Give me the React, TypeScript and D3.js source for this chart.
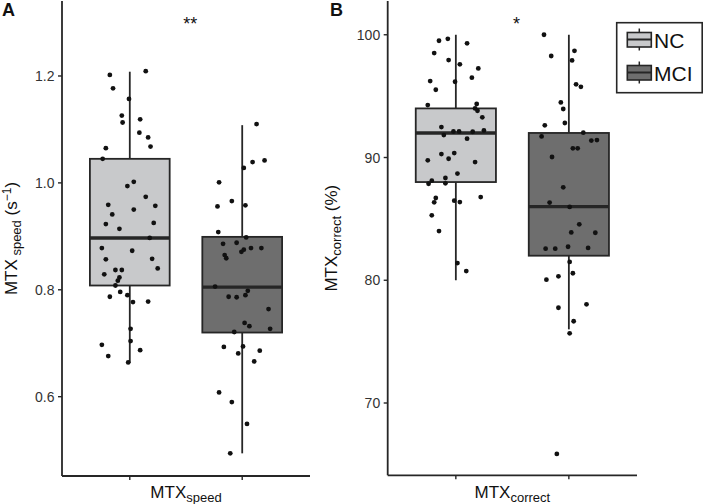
import React from 'react';
import * as d3 from 'd3';

// ---------- data ----------
const groups = ['NC', 'MCI'];

// Panel A: MTX speed (s^-1), jittered observations
const speedNC = [1.202, 1.209, 1.177, 1.157, 1.126, 1.113, 1.119, 1.094, 1.085, 1.065, 1.068, 1.045, 1.002, 0.994, 0.974, 0.959, 0.957, 0.950, 0.941, 0.923, 0.925, 0.914, 0.897, 0.878, 0.873, 0.857, 0.858, 0.840, 0.837, 0.837, 0.829, 0.823, 0.817, 0.808, 0.796, 0.790, 0.787, 0.777, 0.778, 0.727, 0.704, 0.697, 0.687, 0.676, 0.664];
const speedNCJitter = [-0.25, 0.2, -0.21, -0.01, -0.1, -0.09, 0.13, 0.12, 0.23, -0.3, 0.26, -0.34, 0.05, -0.03, 0.2, -0.27, 0.32, 0.05, -0.22, -0.3, 0.3, -0.13, 0.25, -0.35, 0.03, -0.3, 0.28, 0.35, -0.18, -0.1, -0.32, -0.13, -0.15, -0.18, -0.12, -0.03, -0.25, 0.04, 0.23, 0.01, 0.01, -0.35, 0.13, -0.27, -0.02];
const speedMCI = [1.110, 1.028, 1.039, 1.042, 1.001, 0.966, 0.956, 0.958, 0.908, 0.898, 0.886, 0.888, 0.865, 0.859, 0.871, 0.875, 0.878, 0.878, 0.806, 0.798, 0.787, 0.786, 0.790, 0.764, 0.738, 0.732, 0.727, 0.721, 0.693, 0.694, 0.681, 0.686, 0.666, 0.608, 0.590, 0.549, 0.494];
const speedMCIJitter = [0.18, 0.02, 0.13, 0.28, -0.29, -0.13, -0.31, 0.04, -0.3, 0.05, -0.24, -0.07, -0.22, -0.2, -0.01, 0.02, 0.11, 0.24, -0.34, 0.07, -0.17, -0.07, 0.04, 0.33, 0.03, 0.09, 0.35, -0.1, -0.23, 0.01, -0.05, 0.22, 0.15, -0.29, -0.13, 0.06, -0.15];
// box stats: [lower whisker, Q1, median, Q3, upper whisker]
const speedBoxNC = [0.663, 0.808, 0.897, 1.045, 1.208];
const speedBoxMCI = [0.494, 0.720, 0.805, 0.899, 1.108];
const speedTicks = [0.6, 0.8, 1.0, 1.2];
const speedDomain = [0.4516, 1.3403];

// Panel B: MTX correct (%)
const correctNC = [99.51, 99.67, 99.30, 98.51, 97.94, 97.59, 97.26, 96.23, 96.50, 96.17, 95.52, 94.27, 94.36, 94.00, 93.81, 93.27, 92.48, 92.12, 92.12, 92.10, 92.21, 91.83, 91.53, 90.28, 90.36, 89.90, 89.77, 89.63, 88.69, 88.33, 88.11, 87.86, 87.90, 86.70, 86.35, 86.48, 86.37, 86.78, 85.29, 84.01, 81.40, 80.75];
const correctNCJitter = [-0.21, -0.1, 0.14, -0.27, -0.09, 0.05, 0.28, -0.32, 0.2, -0.01, -0.25, -0.35, 0.26, 0.24, 0.27, 0.33, -0.18, -0.03, 0.04, 0.21, 0.35, -0.15, 0.14, -0.18, -0.02, -0.09, -0.35, 0.24, 0.02, -0.13, -0.3, -0.34, -0.13, -0.25, -0.27, -0.02, 0.05, 0.31, -0.3, -0.21, 0.02, 0.13];
const correctMCI = [100.0, 98.69, 98.27, 97.91, 95.96, 95.76, 94.49, 93.95, 92.62, 92.81, 91.72, 92.02, 91.38, 91.42, 90.75, 90.75, 90.04, 87.57, 86.33, 85.97, 84.56, 83.90, 83.87, 82.57, 82.57, 82.73, 82.63, 81.49, 80.57, 80.05, 80.32, 77.76, 78.04, 76.66, 75.68, 65.85];
const correctMCIJitter = [-0.31, 0.07, -0.22, 0.04, 0.09, 0.15, -0.1, -0.07, -0.3, -0.05, -0.34, 0.18, 0.28, 0.35, 0.05, 0.11, -0.21, -0.07, -0.24, 0.01, 0.13, 0.03, 0.33, -0.29, -0.17, -0.01, 0.24, 0.01, 0.05, -0.28, -0.13, -0.13, 0.22, 0.06, 0.01, -0.15];
const correctBoxNC = [80, 88, 92, 94, 100];
const correctBoxMCI = [76, 82, 86, 92, 100];
const correctTicks = [70, 80, 90, 100];
const correctDomain = [64.11, 102.75];

const significance = ['**', '*'];

// ---------- styles ----------
const FONT = 'Liberation Sans, Arial, Helvetica, sans-serif';
const FILLS: Record<string, string> = { NC: '#c8c9cb', MCI: '#6e6e6e' };
const INK = '#262626';
const DODGE = 0.272;
const BOXW = 0.386;

type PanelProps = {
  x0: number; x1: number; y0: number; y1: number;
  domain: number[]; ticks: number[]; fmt: (v: number) => string;
  boxes: number[][]; values: number[][]; jitters: number[][];
  sig: string; letter: string; letterX: number;
  xTitleSub: string; yTitle: React.ReactNode; yTitleX: number;
};

function Panel(p: PanelProps) {
  const x = d3.scaleLinear().domain([0.4, 1.6]).range([p.x0, p.x1]);
  const y = d3.scaleLinear().domain(p.domain).range([p.y1, p.y0]);
  const bw = x(1 + BOXW) - x(1);
  const centers = groups.map((_, i) => 1 + (i === 0 ? -DODGE : DODGE));
  return (
    <g>
      {groups.map((g, i) => {
        const [lo, q1, md, q3, hi] = p.boxes[i];
        const cx = x(centers[i]);
        return (
          <g key={g}>
            <line x1={cx} x2={cx} y1={y(hi)} y2={y(q3)} stroke={INK} strokeWidth={1.8} />
            <line x1={cx} x2={cx} y1={y(q1)} y2={y(lo)} stroke={INK} strokeWidth={1.8} />
            <rect x={cx - bw / 2} y={y(q3)} width={bw} height={y(q1) - y(q3)} fill={FILLS[g]} stroke={INK} strokeWidth={1.8} />
            <line x1={cx - bw / 2} x2={cx + bw / 2} y1={y(md)} y2={y(md)} stroke={INK} strokeWidth={3.4} />
          </g>
        );
      })}
      {groups.map((g, i) =>
        p.values[i].map((v, k) => (
          <circle key={g + k} cx={x(centers[i]) + p.jitters[i][k] * bw} cy={y(v)} r={2.4} fill="#111" />
        ))
      )}
      {/* axes */}
      <line x1={p.x0} x2={p.x0} y1={p.y0} y2={p.y1} stroke={INK} strokeWidth={1.8} />
      <line x1={p.x0} x2={p.x1} y1={p.y1} y2={p.y1} stroke={INK} strokeWidth={1.8} />
      {p.ticks.map((t) => (
        <g key={t}>
          <line x1={p.x0 - 4} x2={p.x0} y1={y(t)} y2={y(t)} stroke={INK} strokeWidth={1.4} />
          <text x={p.x0 - 7.5} y={y(t)} dy="0.36em" textAnchor="end" fontSize={14} fill="#333" fontFamily={FONT}>{p.fmt(t)}</text>
        </g>
      ))}
      {centers.map((c, i) => (
        <line key={i} x1={x(c)} x2={x(c)} y1={p.y1} y2={p.y1 + 4} stroke={INK} strokeWidth={1.4} />
      ))}
      <text x={x(1)} y={498} textAnchor="middle" fontSize={17} fill="#111" fontFamily={FONT}>
        MTX<tspan fontSize={13} dy={4}>{p.xTitleSub}</tspan>
      </text>
      <text transform={`translate(${p.yTitleX},${(p.y0 + p.y1) / 2}) rotate(-90)`} textAnchor="middle" fontSize={17} fill="#111" fontFamily={FONT}>
        {p.yTitle}
      </text>
      <text x={x(1.02)} y={p.y0 + 29} textAnchor="middle" fontSize={18} fill="#111" fontFamily={FONT}>{p.sig}</text>
      <text x={p.letterX} y={16} fontSize={18} fontWeight="bold" fill="#111" fontFamily={FONT}>{p.letter}</text>
    </g>
  );
}

function LegendKey({ x, y, fill }: { x: number; y: number; fill: string }) {
  return (
    <g>
      <line x1={x + 12} x2={x + 12} y1={y} y2={y + 22} stroke={INK} strokeWidth={1.5} />
      <rect x={x} y={y + 4} width={24} height={14.5} fill={fill} stroke={INK} strokeWidth={1.6} />
      <line x1={x} x2={x + 24} y1={y + 11} y2={y + 11} stroke={INK} strokeWidth={2} />
    </g>
  );
}

export default function App() {
  const fmtA = d3.format('.1f');
  const fmtB = d3.format('d');
  return (
    <svg width={703} height={504} style={{ position: 'absolute', left: 0, top: 0, background: '#fff' }}>
      <rect width={703} height={504} fill="#fff" />
      <Panel
        x0={62} x1={310} y0={1} y1={476}
        domain={speedDomain} ticks={speedTicks} fmt={fmtA}
        boxes={[speedBoxNC, speedBoxMCI]} values={[speedNC, speedMCI]} jitters={[speedNCJitter, speedMCIJitter]}
        sig={significance[0]} letter="A" letterX={2}
        xTitleSub="speed" yTitleX={17}
        yTitle={<>MTX<tspan fontSize={13} dy={4}> speed</tspan><tspan dy={-4}> (s</tspan><tspan fontSize={12} dy={-6}>−1</tspan><tspan dy={6}>)</tspan></>}
      />
      <Panel
        x0={387.7} x1={637} y0={1} y1={475.3}
        domain={correctDomain} ticks={correctTicks} fmt={fmtB}
        boxes={[correctBoxNC, correctBoxMCI]} values={[correctNC, correctMCI]} jitters={[correctNCJitter, correctMCIJitter]}
        sig={significance[1]} letter="B" letterX={330}
        xTitleSub="correct" yTitleX={337}
        yTitle={<>MTX<tspan fontSize={13} dy={4}>correct</tspan><tspan dy={-4}> (%)</tspan></>}
      />
      {/* legend */}
      <rect x={616.7} y={22.7} width={85.5} height={70} fill="#fff" stroke={INK} strokeWidth={1.6} />
      {groups.map((g, i) => (
        <g key={g}>
          <LegendKey x={627.3} y={28.5 + i * 33} fill={FILLS[g]} />
          <text x={654} y={47.5 + i * 33.5} fontSize={21} fill="#111" fontFamily={FONT}>{g}</text>
        </g>
      ))}
    </svg>
  );
}
